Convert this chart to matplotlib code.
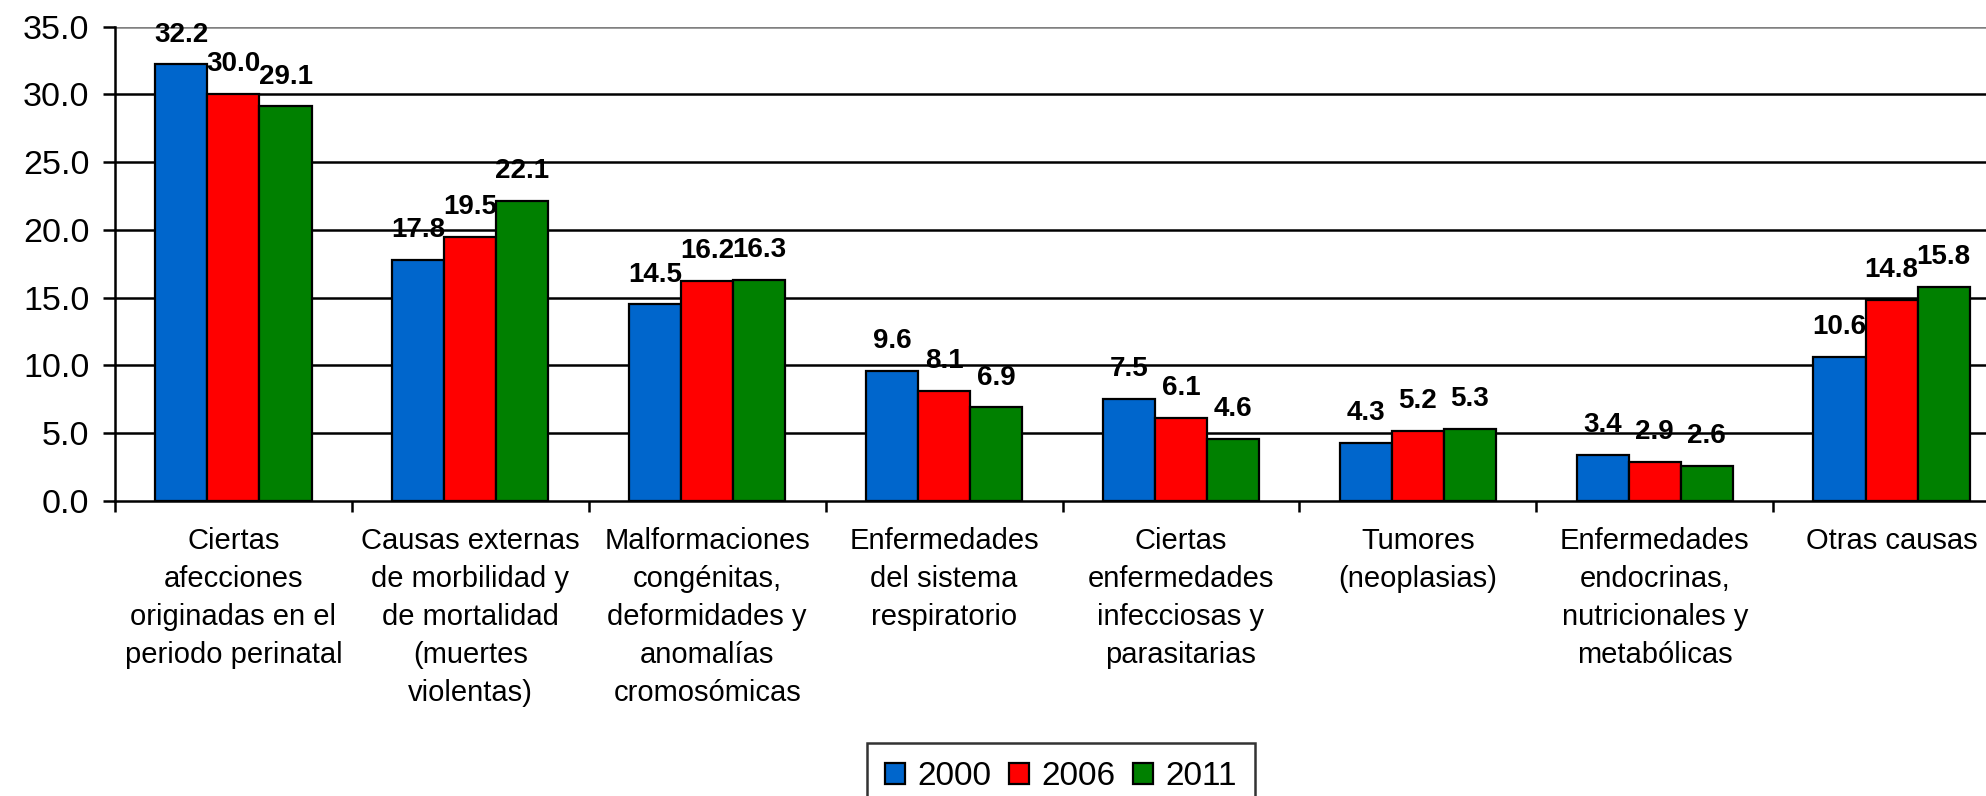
import matplotlib
matplotlib.use("Agg")
import matplotlib.pyplot as plt
import numpy as np

categories = [
    "Ciertas\nafecciones\noriginadas en el\nperiodo perinatal",
    "Causas externas\nde morbilidad y\nde mortalidad\n(muertes\nviolentas)",
    "Malformaciones\ncongénitas,\ndeformidades y\nanomalías\ncromosómicas",
    "Enfermedades\ndel sistema\nrespiratorio",
    "Ciertas\nenfermedades\ninfecciosas y\nparasitarias",
    "Tumores\n(neoplasias)",
    "Enfermedades\nendocrinas,\nnutricionales y\nmetabólicas",
    "Otras causas",
]
series_names = ["2000", "2006", "2011"]
v2000 = [32.2, 17.8, 14.5, 9.6, 7.5, 4.3, 3.4, 10.6]
v2006 = [30.0, 19.5, 16.2, 8.1, 6.1, 5.2, 2.9, 14.8]
v2011 = [29.1, 22.1, 16.3, 6.9, 4.6, 5.3, 2.6, 15.8]
yticks = [0, 5, 10, 15, 20, 25, 30, 35]

colors = ["#0066CC", "#FF0000", "#008000"]

plt.rcParams['font.family'] = ['Liberation Sans', 'DejaVu Sans']

fig = plt.figure(figsize=(19.86, 7.96), dpi=100)
W, H = 1986, 796
x_left, x_right = 115, 2010
y_zero, y_top = 501, 26.5
ax = fig.add_axes([x_left / W, 1 - y_zero / H, (x_right - x_left) / W, (y_zero - y_top) / H])

n = len(categories)
x = np.arange(n)
bw = 0.22
series = [v2000, v2006, v2011]
for i, (vals, name, c) in enumerate(zip(series, series_names, colors)):
    pos = x + (i - 1) * bw
    ax.bar(pos, vals, width=bw, color=c, edgecolor="black", linewidth=1.6,
           label=name, zorder=3)
    for xp, v in zip(pos, vals):
        ax.annotate(f"{v:.1f}", (xp, v), xytext=(0, 16.5), textcoords="offset points",
                    ha="center", va="baseline", fontsize=20, fontweight="bold", zorder=4)

ax.set_xlim(-0.5, n - 0.5)
ax.set_ylim(0, 35)
ax.set_yticks(yticks)
ax.set_yticklabels([f"{t:.1f}" for t in yticks], fontsize=24.5)
for t in yticks[1:]:
    ax.axhline(t, color="#808080" if t == 35 else "black", linewidth=1.8, zorder=1)

ax.set_xticks(np.arange(n + 1) - 0.5)
ax.set_xticklabels([])
ax.set_xticks(x, minor=True)
ax.set_xticklabels(categories, minor=True, fontsize=21, linespacing=1.45, va="top")
ax.tick_params(axis="x", which="major", direction="out", length=8, width=1.8)
ax.tick_params(axis="x", which="minor", length=0, pad=19)
ax.tick_params(axis="y", direction="out", length=8.5, width=1.8, pad=10)

for s in ["top", "right"]:
    ax.spines[s].set_visible(False)
ax.spines["left"].set_linewidth(1.8)
ax.spines["bottom"].set_linewidth(1.8)
ax.spines["bottom"].set_zorder(5)

leg = fig.legend(loc="upper left", bbox_to_anchor=(867 / W, 1 - 743 / H), ncol=3,
                 fontsize=24, frameon=True, fancybox=False, edgecolor="black",
                 handlelength=0.6, handleheight=0.6, handletextpad=0.35,
                 columnspacing=0.55, borderpad=0.55, borderaxespad=0)
leg.get_frame().set_linewidth(1.8)

fig.savefig("out.png", dpi=100)
